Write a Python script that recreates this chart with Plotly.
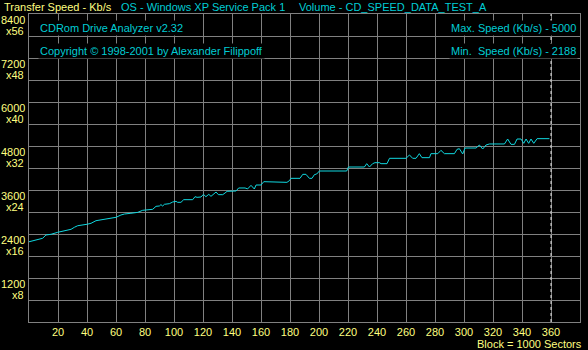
import plotly.graph_objects as go

# ---- data ----
blocks = [0, 6, 9.4, 11.7, 15.2, 19.8, 22, 26.2, 29, 31.3, 33.6, 40, 42.8, 46.2, 52, 55.4, 60, 63.4, 65.8,
          70.3, 75, 78.4, 85.3, 87.6, 89.9, 91, 92.2, 93.4, 96.8, 99.1, 101.4, 102.5, 104.8, 106.7, 112.9,
          114.5, 115.9, 118.6, 120.3, 122, 124, 125.5, 127.9, 129, 130.6, 133.6, 135.2, 136.6, 142.8, 144.6,
          149, 150.8, 153.1, 155.4, 156.6, 160, 161.9, 163.4, 165.1, 168, 169.2, 171.5, 172.7, 175, 177.9,
          179.6, 180.7, 186.9, 188.8, 191, 193.4, 195.2, 196.8, 198.4, 200.3, 219.1, 220.3, 231.3, 232.9,
          234.8, 237, 238.6, 241.7, 242.8, 246.9, 248.6, 260, 262.4, 264.6, 266.9, 269.2, 271, 276.2, 277.2,
          281.9, 284.1, 286.5, 293.4, 295.2, 296.8, 299.1, 300.7, 308.3, 310.6, 312.9, 315.2, 317.5, 327.9,
          330.1, 332.4, 334.8, 336.6, 339.3, 341.2, 342.8, 344.6, 346.2, 348.1, 350.4, 358.9]
speeds = [2188, 2240, 2283, 2373, 2392, 2446, 2463, 2501, 2528, 2583, 2626, 2665, 2692, 2763, 2801, 2828, 2855,
          2918, 2945, 2965, 2990, 3046, 3073, 3155, 3164, 3200, 3164, 3210, 3227, 3273, 3291, 3264, 3264, 3336,
          3336, 3418, 3400, 3409, 3482, 3418, 3482, 3427, 3509, 3545, 3473, 3473, 3518, 3564, 3573, 3655,
          3655, 3630, 3727, 3627, 3736, 3736, 3827, 3827, 3809, 3809, 3827, 3809, 3827, 3809, 3809,
          3855, 3918, 3918, 4027, 4027, 3918, 3918, 4018, 4036, 4118, 4118, 4227, 4227, 4318,
          4227, 4318, 4345, 4345, 4318, 4318, 4464, 4464, 4555, 4464, 4464, 4591, 4482, 4482, 4591,
          4591, 4682, 4591, 4591, 4709, 4727, 4582, 4745, 4745, 4827, 4718, 4827, 4855, 4855,
          4991, 4845, 4845, 4991, 4991, 4873, 4991, 4873, 4991, 4873, 5000, 5000]

x_ticks = list(range(20, 381, 20))
x_tick_labels = [str(v) for v in x_ticks]
y_ticks = [1200, 2400, 3600, 4800, 6000, 7200, 8400]
y_tick_labels = ["1200", "2400", "3600", "4800", "6000", "7200", "8400"]
y_mult_labels = ["x8", "x16", "x24", "x32", "x40", "x48", "x56"]
end_block = 360
max_speed = 5000
min_speed = 2188

YEL = "#FFFF80"
CYA = "#00CCD4"
LINE = "#10D8E0"
GRID = "#808080"
FONT = "Liberation Sans, Arial"
FS = 11

W, H = 588, 350
ML, MR, MT, MB = 29, 8, 14, 28

fig = go.Figure()
fig.add_trace(go.Scatter(x=blocks, y=speeds, mode="lines",
                         line=dict(color=LINE, width=1), hoverinfo="skip"))

fig.add_shape(type="line", xref="x", yref="paper", x0=end_block, x1=end_block, y0=0, y1=1,
              line=dict(color="#E8E8E8", width=1, dash="3px,3px"))

ann = []
for v, t, m in zip(y_ticks, y_tick_labels, y_mult_labels):
    ann.append(dict(xref="paper", yref="y", x=0, y=v, xanchor="right", yanchor="middle",
                    xshift=-3, yshift=-5, text=t, showarrow=False, height=11, borderpad=0,
                    font=dict(color=YEL, size=FS, family=FONT)))
    ann.append(dict(xref="paper", yref="y", x=0, y=v, xanchor="right", yanchor="middle",
                    xshift=-4, yshift=-16, text=m, showarrow=False, height=11, borderpad=0,
                    font=dict(color=YEL, size=FS, family=FONT)))


def px_ann(text, px, py, anchor, color, bg=None):
    d = dict(xref="paper", yref="paper", x=(px - ML) / (W - ML - MR), y=(H - MB - py) / (H - MT - MB),
             xanchor=anchor, yanchor="middle", text=text, showarrow=False,
             font=dict(color=color, size=FS, family=FONT))
    if bg:
        d["bgcolor"] = bg
    return d


ann.append(px_ann("Transfer Speed - Kb/s", 2, 6.5, "left", YEL))
ann.append(px_ann("OS - Windows XP Service Pack 1", 119, 6.5, "left", CYA))
ann.append(px_ann("Volume - CD_SPEED_DATA_TEST_A", 297, 6.5, "left", CYA))
ann.append(px_ann("CDRom Drive Analyzer v2.32", 38, 28.5, "left", CYA, "#000000"))
ann.append(px_ann("Copyright © 1998-2001 by Alexander Filippoff", 38, 50.5, "left", CYA, "#000000"))
ann.append(px_ann(f"Max. Speed (Kb/s) - {max_speed}", 578, 28.5, "right", CYA, "#000000"))
ann.append(px_ann(f"Min.\u00a0 Speed (Kb/s) - {min_speed}", 578, 50.5, "right", CYA, "#000000"))
ann.append(px_ann("Block = 1000 Sectors", 584, 343.5, "right", YEL))

fig.update_layout(
    template="none",
    width=W, height=H, margin=dict(l=ML, r=MR, t=MT, b=MB, pad=0, autoexpand=False),
    paper_bgcolor="#000000", plot_bgcolor="#000000", showlegend=False,
    annotations=ann,
    xaxis=dict(range=[0, 380], tickvals=x_ticks, ticktext=x_tick_labels, showgrid=True,
               gridcolor=GRID, gridwidth=1, zeroline=False, showline=True, mirror=True,
               linecolor=GRID, linewidth=1, ticks="", tickfont=dict(color=YEL, size=FS, family=FONT),
               automargin=False, fixedrange=True),
    yaxis=dict(range=[0, 8400], dtick=600, tick0=0, showgrid=True, gridcolor=GRID, gridwidth=1,
               zeroline=False, showline=True, mirror=True, linecolor=GRID, linewidth=1,
               showticklabels=False, ticks="", automargin=False, fixedrange=True),
)

fig.write_html("out.html", config={"displayModeBar": False},
               post_script="document.body.style.margin='0';document.body.style.padding='0';"
                           "document.body.style.background='#000';")
